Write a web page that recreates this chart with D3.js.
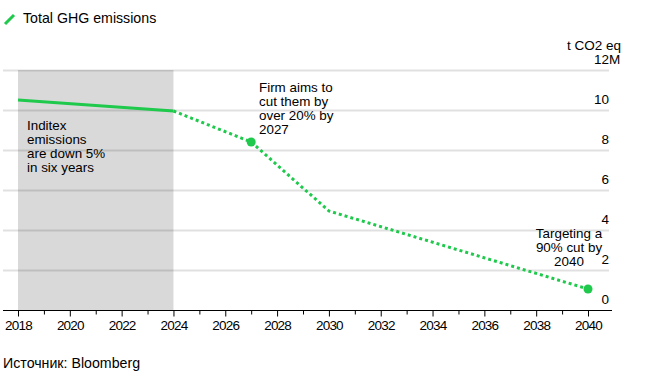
<!DOCTYPE html>
<html><head><meta charset="utf-8">
<script src="https://cdn.jsdelivr.net/npm/d3@7"></script>
<style>
body{margin:0;background:#fff;}
text{font-family:"Liberation Sans",Arial,Helvetica,sans-serif;fill:#000;}
</style></head>
<body><svg id="c" width="647" height="379"></svg>
<script>
const actualYears = [2018, 2024];
const actualValues = [10.5, 9.95];
const targetYears = [2024, 2027, 2030, 2040];
const targetValues = [9.95, 8.4, 4.95, 1.05];
const dotYears = [2027, 2040];
const dotValues = [8.4, 1.05];
const yTicks = [0, 2, 4, 6, 8, 10, 12];
const yTickLabels = ["0", "2", "4", "6", "8", "10", "12"];
const yTopSuffix = "M";
const xTicks = d3.range(2018, 2041, 2);
const shadeRange = [2018, 2024];
const legendLabel = "Total GHG emissions";
const unitLabel = "t CO2 eq";
const note1 = ["Inditex", "emissions", "are down 5%", "in six years"];
const note2 = ["Firm aims to", "cut them by", "over 20% by", "2027"];
const note3 = ["Targeting a", "90% cut by", "2040"];
const source = "Источник: Bloomberg";

const green = "#1ec94c";
const svg = d3.select("#c");
const x = d3.scaleLinear().domain([2018, 2040]).range([18, 588]);
const y = d3.scaleLinear().domain([0, 12]).range([310, 70]);

// shade
svg.append("rect").attr("x", x(shadeRange[0])).attr("y", y(12))
  .attr("width", x(shadeRange[1]) - x(shadeRange[0])).attr("height", y(0) - y(12))
  .attr("fill", "#d9d9d9");

// gridlines
svg.append("g").selectAll("line").data(yTicks.filter(d => d > 0)).join("line")
  .attr("x1", 3).attr("x2", 609).attr("y1", d => y(d) + 0.5).attr("y2", d => y(d) + 0.5)
  .attr("stroke", "rgba(0,0,0,0.12)").attr("stroke-width", 2);

// y labels
svg.append("g").selectAll("text").data(yTicks).join("text")
  .attr("x", 609).attr("y", d => y(d) - 6).attr("text-anchor", "end")
  .attr("font-size", 13.5).text((d, i) => yTickLabels[i]);
svg.append("text").attr("x", 609).attr("y", y(12) - 6).attr("font-size", 13.5).text(yTopSuffix);
svg.append("text").attr("x", 621).attr("y", 50).attr("text-anchor", "end")
  .attr("font-size", 13.5).text(unitLabel);

// x axis
const xAxis = d3.axisBottom(x).tickValues(d3.range(2018, 2041, 1))
  .tickSize(0).tickFormat(d => xTicks.includes(d) ? d : "");
const ax = svg.append("g").attr("transform", `translate(0,${y(0) + 0.5})`).call(xAxis);
ax.select(".domain").remove();
ax.selectAll(".tick text").attr("font-size", 13.5).attr("dy", "1.2em")
  .attr("letter-spacing", "-0.8px").attr("fill", "#000")
  .style("font-family", '"Liberation Sans",Arial,sans-serif');
ax.selectAll(".tick").append("line").attr("y1", 0)
  .attr("y2", d => xTicks.includes(d) ? 6 : 4).attr("stroke", "#000");
svg.append("line").attr("x1", 3).attr("x2", 612).attr("y1", y(0) + 0.5).attr("y2", y(0) + 0.5)
  .attr("stroke", "#000").attr("stroke-width", 1);

// lines
const line = d3.line().x(d => x(d[0])).y(d => y(d[1]));
svg.append("path").datum(actualYears.map((d, i) => [d, actualValues[i]]))
  .attr("d", line).attr("fill", "none").attr("stroke", green).attr("stroke-width", 3);
svg.append("path").datum(targetYears.map((d, i) => [d, targetValues[i]]))
  .attr("d", line).attr("fill", "none").attr("stroke", green).attr("stroke-width", 3)
  .attr("stroke-dasharray", "3,3");
svg.append("g").selectAll("circle").data(dotYears).join("circle")
  .attr("cx", d => x(d)).attr("cy", (d, i) => y(dotValues[i])).attr("r", 4.5).attr("fill", green);

// legend
svg.append("line").attr("x1", 5).attr("y1", 24).attr("x2", 14).attr("y2", 15)
  .attr("stroke", green).attr("stroke-width", 3);
svg.append("text").attr("x", 23).attr("y", 23).attr("font-size", 14.2).text(legendLabel);

// notes
function note(lines, xx, y0, anchor) {
  const t = svg.append("text").attr("font-size", 13.4).attr("text-anchor", anchor);
  lines.forEach((l, i) => t.append("tspan").attr("x", xx).attr("y", y0 + i * 14).text(l));
}
note(note1, 27, 130, "start");
note(note2, 259, 92, "start");
note(note3, 569, 238, "middle");

svg.append("text").attr("x", 3).attr("y", 368).attr("font-size", 14.2).text(source);
</script></body></html>
